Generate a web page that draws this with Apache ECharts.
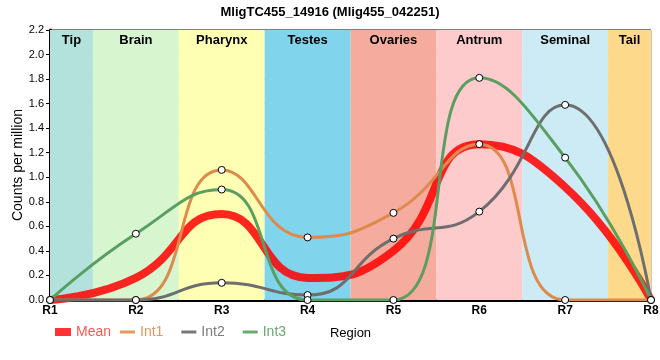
<!DOCTYPE html>
<html><head><meta charset="utf-8">
<script src="https://cdn.jsdelivr.net/npm/echarts@6/dist/echarts.min.js"></script>
<style>html,body{margin:0;padding:0;background:#fff}#c{width:660px;height:360px}</style>
</head><body><div id="c"></div>
<script>
const categories = ['R1','R2','R3','R4','R5','R6','R7','R8'];
const meanVals = [0, 0.18, 0.70, 0.18, 0.40, 1.27, 0.92, 0];
const int1Vals = [0, 0, 1.06, 0.51, 0.71, 1.27, 0, 0];
const int2Vals = [0, 0, 0.14, 0.04, 0.50, 0.72, 1.59, 0];
const int3Vals = [0, 0.54, 0.90, 0, 0, 1.81, 1.16, 0];
const bandNames = ['Tip','Brain','Pharynx','Testes','Ovaries','Antrum','Seminal','Tail'];
const bandStart = [1, 1.5, 2.5, 3.5, 4.5, 5.5, 6.5, 7.5];
const bandEnd   = [1.5, 2.5, 3.5, 4.5, 5.5, 6.5, 7.5, 8];
const bandColors = ['#b3e2dd','#d7f5cf','#ffffb3','#80d4eb','#f5ab9d','#fdcbcb','#cdebf4','#fdd98c'];

const toPairs = arr => arr.map((v, i) => [i + 1, v]);
const marker = { color: '#fff', borderColor: '#000', borderWidth: 1 };

const chart = echarts.init(document.getElementById('c'), null, {renderer: 'canvas'});
chart.setOption({
  animation: false,
  textStyle: { fontFamily: 'Liberation Sans, Arial, sans-serif' },
  title: {
    text: 'MligTC455_14916 (Mlig455_042251)', left: 'center', top: 1,
    textStyle: { fontSize: 13, fontWeight: 'bold', color: '#000' }
  },
  legend: [
    {
      left: 50, top: 320, itemWidth: 16, itemHeight: 8, icon: 'rect',
      textStyle: { fontSize: 14 },
      data: [{ name: 'Mean', icon: 'rect', itemStyle: { color: '#ff3333', borderWidth: 0 }, textStyle: { color: '#ff5555' } }]
    },
    {
      left: 115, top: 320, itemGap: 18, itemWidth: 15, itemHeight: 3, icon: 'rect',
      textStyle: { fontSize: 14 },
      data: [
        { name: 'Int1', icon: 'rect', itemStyle: { color: '#e39a60', borderWidth: 0 }, textStyle: { color: '#e0985c' } },
        { name: 'Int2', icon: 'rect', itemStyle: { color: '#77777a', borderWidth: 0 }, textStyle: { color: '#7a7a80' } },
        { name: 'Int3', icon: 'rect', itemStyle: { color: '#6aaa70', borderWidth: 0 }, textStyle: { color: '#6aaa70' } }
      ]
    }
  ],
  grid: { left: 50, right: 9, top: 30, bottom: 60, show: true, borderColor: '#000', borderWidth: 1,
          outerBoundsMode: 'none', containLabel: false },
  xAxis: {
    type: 'value', min: 1, max: 8, interval: 1,
    name: 'Region', nameLocation: 'middle', nameGap: 27, nameMoveOverlap: false,
    nameTextStyle: { fontSize: 13, color: '#000' },
    axisLine: { lineStyle: { color: '#000', width: 3 } },
    axisTick: { show: false },
    axisLabel: { formatter: v => categories[v - 1], fontSize: 12, fontWeight: 'bold', color: '#000', margin: 5 },
    splitLine: { show: true, lineStyle: { color: '#c8c8c8', width: 1 } }
  },
  yAxis: {
    type: 'value', min: 0, max: 2.2, interval: 0.2,
    name: 'Counts per million', nameLocation: 'middle', nameGap: 25, nameMoveOverlap: false,
    nameTextStyle: { fontSize: 14, color: '#000' },
    axisLine: { show: true, lineStyle: { color: '#000', width: 3 } },
    axisTick: { show: true, length: 4, lineStyle: { color: '#000' } },
    axisLabel: { formatter: v => v.toFixed(1), fontSize: 11, color: '#000', margin: 6 },
    splitLine: { show: true, lineStyle: { color: '#c8c8c8', width: 1 } }
  },
  series: [
    {
      name: 'bands', type: 'line', data: [], z: -1, silent: true,
      markArea: {
        silent: true,
        label: { position: 'insideTop', fontSize: 13, fontWeight: 'bold', color: '#000', distance: 4 },
        data: bandNames.map((n, i) => [
          { name: n, xAxis: bandStart[i], yAxis: 0, itemStyle: { color: bandColors[i], opacity: 1 } },
          { xAxis: bandEnd[i], yAxis: 2.2 }
        ])
      }
    },
    {
      name: 'Mean', type: 'line', data: toPairs(meanVals), smooth: 0.5, showSymbol: false, symbol: 'none',
      legendIcon: 'rect',
      lineStyle: { color: 'rgba(255,0,0,0.85)', width: 8 }, itemStyle: { color: '#ff2222' }, z: 3
    },
    {
      name: 'Int1', type: 'line', data: toPairs(int1Vals), smooth: 0.5, symbol: 'circle', symbolSize: 7,
      legendIcon: 'rect',
      lineStyle: { color: '#dd8a4c', width: 3 }, itemStyle: marker, z: 4
    },
    {
      name: 'Int2', type: 'line', data: toPairs(int2Vals), smooth: 0.5, symbol: 'circle', symbolSize: 7,
      legendIcon: 'rect',
      lineStyle: { color: '#6e6e6e', width: 3 }, itemStyle: marker, z: 4
    },
    {
      name: 'Int3', type: 'line', data: toPairs(int3Vals), smooth: 0.5, symbol: 'circle', symbolSize: 7,
      legendIcon: 'rect',
      lineStyle: { color: '#5a9e62', width: 3 }, itemStyle: marker, z: 4
    }
  ]
});
</script></body></html>
